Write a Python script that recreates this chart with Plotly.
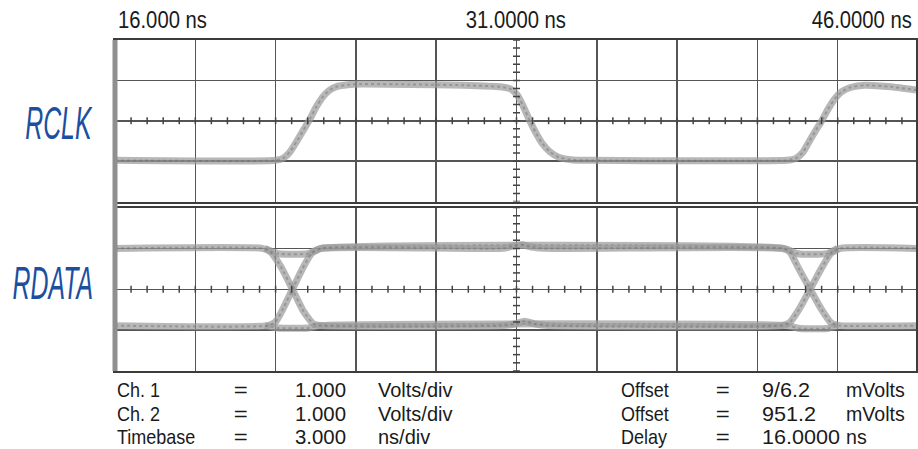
import json
import numpy as np
import plotly.graph_objects as go
from plotly.subplots import make_subplots

# ---------------- data (time in ns, volts) ----------------
rclk_t = [16.0, 22.0, 22.3, 22.55, 22.8, 23.05, 23.28, 23.5, 23.75, 24.0, 24.3, 24.7,
          25.2, 27.0, 29.0, 30.4, 30.8, 31.05, 31.25, 31.47, 31.7, 31.95, 32.25, 32.6,
          33.1, 33.7, 36.0, 39.0, 41.1, 41.44, 41.7, 41.93, 42.18, 42.42, 42.65, 42.9,
          43.15, 43.5, 44.0, 45.0, 45.93]
rclk_v = [-0.98, -0.98, -0.92, -0.76, -0.50, -0.22, 0.04, 0.32, 0.58, 0.75, 0.85, 0.89,
          0.91, 0.90, 0.88, 0.84, 0.78, 0.62, 0.36, 0.04, -0.27, -0.55, -0.77, -0.91,
          -0.97, -0.98, -0.99, -0.99, -0.98, -0.93, -0.78, -0.52, -0.24, 0.02, 0.30, 0.55,
          0.72, 0.83, 0.88, 0.84, 0.76]

# RDATA eye: one sweep starting high, one starting low
rdata_a_t = [16.0, 21.5, 21.8, 22.2, 22.63, 23.05, 23.4, 23.7, 30.5, 31.0, 31.3, 31.7,
             32.2, 40.9, 41.2, 41.55, 41.97, 42.4, 42.75, 43.1, 45.93]
rdata_a_v = [1.0, 1.0, 0.92, 0.55, 0.0, -0.55, -0.84, -0.89, -0.89, -0.84, -0.78, -0.85,
             -0.89, -0.89, -0.82, -0.5, 0.0, 0.52, 0.88, 1.0, 1.0]
rdata_b_t = [16.0, 21.7, 22.0, 22.3, 22.63, 23.0, 23.35, 23.7, 30.5, 30.9, 31.2, 31.5,
             32.0, 40.9, 41.2, 41.55, 41.97, 42.4, 42.75, 43.1, 45.93]
rdata_b_v = [-0.89, -0.89, -0.8, -0.45, 0.0, 0.5, 0.88, 1.0, 1.0, 1.06, 1.09, 1.04,
             1.0, 1.0, 0.92, 0.5, 0.0, -0.5, -0.82, -0.89, -0.89]
# sweeps that hold their level through the data edge
hold_hi_t = [21.6, 22.1, 23.2, 23.7, 41.0, 41.5, 42.6, 43.0]
hold_hi_v = [1.0, 0.87, 0.87, 1.0, 1.0, 0.87, 0.87, 1.0]
hold_lo_t = [21.6, 22.1, 23.2, 23.6, 41.1, 41.6, 42.6, 43.0]
hold_lo_v = [-0.89, -0.95, -0.95, -0.89, -0.89, -0.96, -0.96, -0.89]

top_labels = ["16.000 ns", "31.0000 ns", "46.0000 ns"]
left_names = ["Ch. 1", "Ch. 2", "Timebase"]
left_vals = ["1.000", "1.000", "3.000"]
left_units = ["Volts/div", "Volts/div", "ns/div"]
right_names = ["Offset", "Offset", "Delay"]
right_vals = ["9/6.2", "951.2", "16.0000"]
right_units = ["mVolts", "mVolts", "ns"]
channel_names = ["RCLK", "RDATA"]

# ---------------- layout geometry ----------------
W, H = 918, 449
L, T, B = 115, 40, 78
PLOT_W = W - L
PLOT_H = H - T - B
DIV_PX = 80.5
X0 = 16.0
X1 = X0 + PLOT_W * 3.0 / DIV_PX


def px(xp):
    return (xp - L) / PLOT_W


def py(yp):
    return (H - B - yp) / PLOT_H


fig = make_subplots(rows=2, cols=1, shared_xaxes=True, vertical_spacing=0)

base = dict(color="rgba(155,155,155,0.72)", width=7)
dots = dict(color="rgba(105,105,105,0.42)", width=2, dash="dot")


def add_wave(t, v, row):
    fig.add_trace(go.Scatter(x=t, y=v, mode="lines", line=dict(**base, shape="spline", smoothing=0.5),
                             hoverinfo="skip", showlegend=False), row=row, col=1)
    fig.add_trace(go.Scatter(x=t, y=v, mode="lines", line=dict(**dots, shape="spline", smoothing=0.5),
                             hoverinfo="skip", showlegend=False), row=row, col=1)


add_wave(rclk_t, rclk_v, 1)
add_wave(hold_hi_t, hold_hi_v, 2)
add_wave(hold_lo_t, hold_lo_v, 2)
add_wave(rdata_a_t, rdata_a_v, 2)
add_wave(rdata_b_t, rdata_b_v, 2)

# graticule minor tick marks on centre lines
minor_x = np.arange(X0, X1, 0.6)
minor_y = np.arange(-2.0, 2.0001, 0.2)
for r in (1, 2):
    fig.add_trace(go.Scatter(x=minor_x, y=np.zeros_like(minor_x), mode="markers",
                             marker=dict(symbol="line-ns", size=5, line=dict(width=1.5, color="#444")),
                             hoverinfo="skip", showlegend=False), row=r, col=1)
    fig.add_trace(go.Scatter(x=np.full_like(minor_y, 31.0), y=minor_y, mode="markers",
                             marker=dict(symbol="line-ew", size=5, line=dict(width=1.5, color="#444")),
                             hoverinfo="skip", showlegend=False), row=r, col=1)

top_dom = [py(201.5), 1.0]
bot_dom = [0.0, py(207.5)]

axis_common = dict(showline=True, mirror=True, linecolor="#3c3c3c", linewidth=2,
                   showgrid=True, gridcolor="#555555", gridwidth=1.5, zeroline=False,
                   showticklabels=False, ticks="", fixedrange=True)

fig.update_xaxes(range=[X0, X1], tick0=X0, dtick=3, **axis_common)
fig.update_yaxes(range=[-2, 2], tick0=-2, dtick=1, **axis_common)
fig.update_layout(yaxis=dict(domain=top_dom), yaxis2=dict(domain=bot_dom))

FAMILY = "Liberation Sans, Arial, Roboto, sans-serif"
head_font = dict(family=FAMILY, size=23, color="#1a1a1a")
text_font = dict(family=FAMILY, size=20, color="#1a1a1a")
ann = []
squeeze = {}   # text -> [transform origin, horizontal scale] (font is wider than the scope font)
ORIGIN = {"left": "0% 50%", "center": "50% 50%", "right": "100% 50%"}


def add_text(txt, xp, yp, anchor, font, scale):
    ann.append(dict(text=txt, x=px(xp), y=py(yp), xref="paper", yref="paper",
                    xanchor=anchor, yanchor="middle", showarrow=False, font=font,
                    borderpad=0))
    squeeze[txt] = [ORIGIN[anchor], scale]


for label, xp, anchor in zip(top_labels, [117, 517, 915], ["left", "center", "right"]):
    add_text(label, xp, 20, anchor, head_font, 0.88)

row_y = [390, 413.5, 437]
cols = [(left_names, 116, "left", 0.9), (["="] * 3, 241, "center", 1.2),
        (left_vals, 294, "left", 1.02), (left_units, 378, "left", 1.0),
        (right_names, 621, "left", 0.9), (["="] * 3, 725, "center", 1.2),
        (right_vals, 763, "left", 1.08), (right_units, 847, "left", 0.98)]
for texts, xp, anchor, sc in cols:
    for txt, yp in zip(texts, row_y):
        add_text(txt, xp, yp, anchor, text_font, sc)

label_font = dict(family=FAMILY, size=46, color="#1c4f9f", style="italic")
for name, yp in zip(channel_names, [123.5, 282.5]):
    add_text(name, 94, yp, "right", label_font, 0.54)

shapes = [dict(type="line", xref="paper", yref="paper", x0=0, x1=0, y0=0, y1=1,
               line=dict(color="#8f8f8f", width=5))]

fig.update_layout(width=W, height=H, margin=dict(l=L, r=0, t=T, b=B, pad=0),
                  paper_bgcolor="white", plot_bgcolor="white",
                  annotations=ann, shapes=shapes, showlegend=False)

post = """
document.body.style.margin='0';
var SQ = %s;
document.querySelectorAll('text.annotation-text').forEach(function(t){
  var s = SQ[t.textContent];
  if(s){
    t.style.transformBox='fill-box';
    t.style.transformOrigin=s[0];
    t.style.transform='scaleX('+s[1]+')';
  }
});
""" % json.dumps(squeeze)
fig.write_html("out.html", config={"displayModeBar": False, "staticPlot": True}, post_script=post)
